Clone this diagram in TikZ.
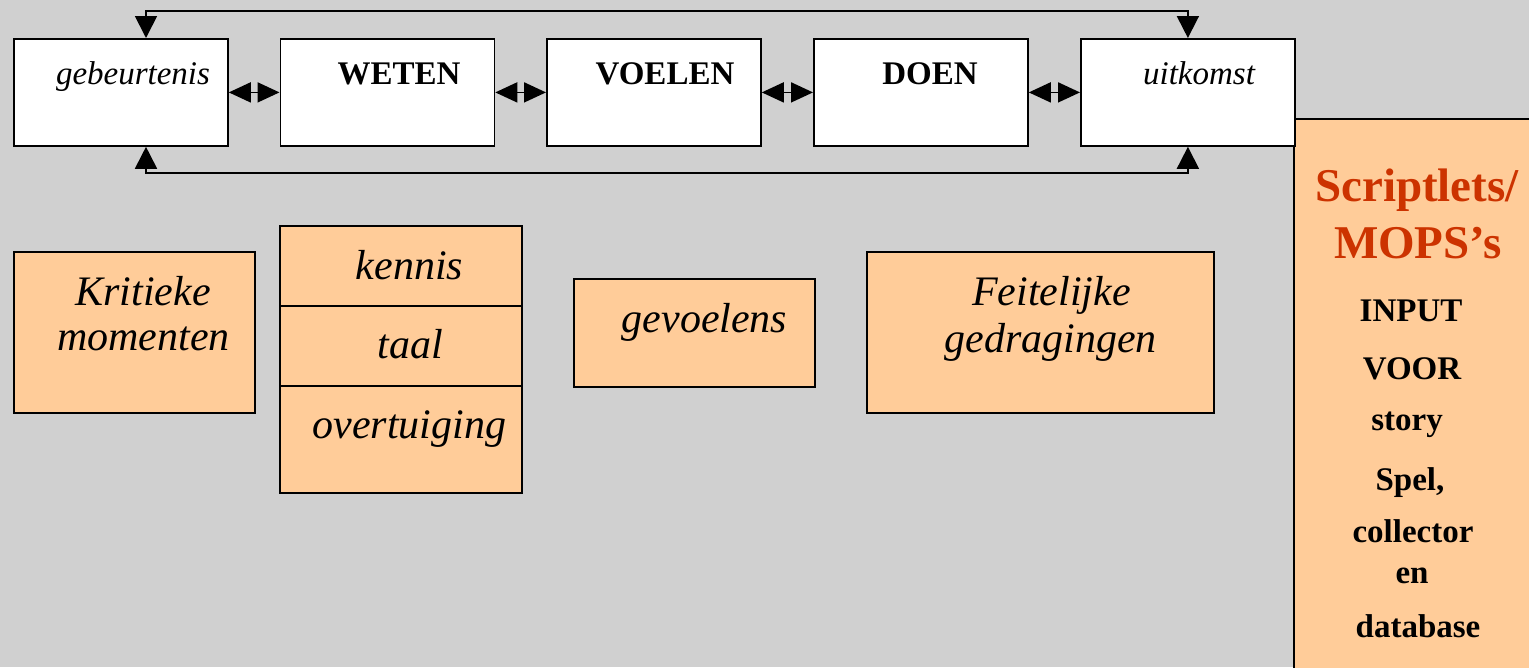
\documentclass[tikz,border=0pt]{standalone}
\usepackage{fontspec}
\setmainfont{Liberation Serif}
\usetikzlibrary{arrows.meta,calc}
\definecolor{bg}{RGB}{208,208,208}
\definecolor{peach}{RGB}{255,204,153}
\definecolor{rust}{RGB}{204,51,0}
\begin{document}
\begin{tikzpicture}[x=1pt,y=-1pt,
  box/.style={draw=black, line width=1.8pt, fill=white, minimum width=214pt, minimum height=107pt, anchor=north west, inner sep=0pt},
  obox/.style={draw=black, line width=1.8pt, fill=peach, anchor=north west, inner sep=0pt},
  toplab/.style={anchor=base, inner sep=0pt, font=\fontsize{33}{40}\selectfont},
  olab/.style={anchor=base, inner sep=0pt, font=\fontsize{42}{48}\selectfont\itshape},
  rlab/.style={anchor=base, inner sep=0pt, font=\fontsize{33}{40}\selectfont\bfseries},
  slab/.style={anchor=base, inner sep=0pt, text=rust, font=\fontsize{47}{54}\selectfont\bfseries},
  dbl/.style={line width=1.8pt, {Triangle[length=22pt,width=20pt]}-{Triangle[length=22pt,width=20pt]}},
  lp/.style={line width=1.8pt, {Triangle[length=22pt,width=22pt]}-{Triangle[length=22pt,width=22pt]}}]
\fill[bg] (0,0) rectangle (1529,667);
\useasboundingbox (0,0) rectangle (1529,667);
\clip (0,0) rectangle (1529,667);

% right column box
\node[obox, minimum width=300pt, minimum height=620pt] (sb) at (1293,118) {};

% top row
\node[box] (b1) at (13,38) {};
\node[box] (b2) at (279.5,38) {};
\node[box] (b3) at (546,38) {};
\node[box] (b4) at (813,38) {};
\node[box] (b5) at (1080,38) {};

\node[toplab, font=\fontsize{33}{40}\selectfont\itshape] (l1) at (133,84) {gebeurtenis};
\node[toplab, font=\fontsize{33}{40}\selectfont\bfseries] (l2) at (399,84) {WETEN};
\node[toplab, font=\fontsize{33}{40}\selectfont\bfseries] (l3) at (665,84) {VOELEN};
\node[toplab, font=\fontsize{33}{40}\selectfont\bfseries] (l4) at (930,84) {DOEN};
\node[toplab, font=\fontsize{33}{40}\selectfont\itshape] (l5) at (1199,84) {uitkomst};

\draw[dbl] (b1.east) -- (b2.west);
\draw[dbl] (b2.east) -- (b3.west);
\draw[dbl] (b3.east) -- (b4.west);
\draw[dbl] (b4.east) -- (b5.west);

\coordinate (t1) at ($(b1.north west)+(133,0)$);
\coordinate (u1) at ($(b1.south west)+(133,0)$);
\draw[lp] (t1) -- ++(0,-27) -| (b5.north);
\draw[lp] (u1) -- ++(0,26) -| (b5.south);

% orange boxes
\node[obox, minimum width=241pt, minimum height=161pt] (kr) at (13,251) {};
\node[olab] (kr1) at (143,305) {Kritieke};
\node[olab] (kr2) at (143.5,350) {momenten};

\node[obox, minimum width=242pt, minimum height=80pt] (ke) at (279,225) {};
\node[obox, minimum width=242pt, minimum height=80pt] (ta) at (279,305) {};
\node[obox, minimum width=242pt, minimum height=107pt] (ov) at (279,385) {};
\node[olab] (ke1) at (409.5,279) {kennis};
\node[olab] (ta1) at (410,358) {taal};
\node[olab] (ov1) at (409.5,438) {overtuiging};

\node[obox, minimum width=241pt, minimum height=108pt] (gv) at (573,278) {};
\node[olab] (gv1) at (704.5,332) {gevoelens};

\node[obox, minimum width=347pt, minimum height=161pt] (fg) at (866,251) {};
\node[olab] (fg1) at (1051.5,305) {Feitelijke};
\node[olab] (fg2) at (1050.5,352) {gedragingen};

% right column text
\node[slab] (s1) at (1417,201) {Scriptlets/};
\node[slab] (s2) at (1418,258) {MOPS’s};
\node[rlab] (r1) at (1411,321) {INPUT};
\node[rlab] (r2) at (1412,379) {VOOR};
\node[rlab] (r3) at (1407,430) {story};
\node[rlab] (r4) at (1410,490) {Spel,};
\node[rlab] (r5) at (1413,542) {collector};
\node[rlab] (r6) at (1412,583) {en};
\node[rlab] (r7) at (1418,637) {database};
\end{tikzpicture}
\end{document}
